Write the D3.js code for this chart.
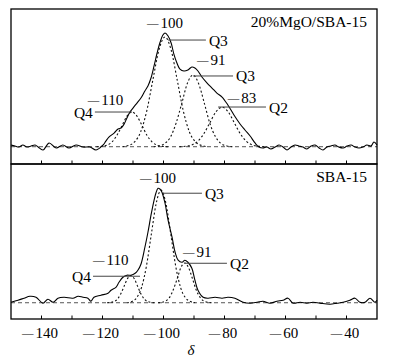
<!DOCTYPE html>
<html>
<head>
<meta charset="utf-8">
<script src="https://cdn.jsdelivr.net/npm/d3@7"></script>
<style>
  body { margin: 0; background: #fff; }
  svg text { font-family: "Liberation Serif", "DejaVu Serif", serif; fill: #000; }
</style>
</head>
<body>
<script>
'use strict';

// chemical shift axis
const xDomain = [-150, -30];
const xMajorTicks = [-140, -120, -100, -80, -60, -40];
const xMinorTicks = [-140, -130, -120, -110, -100, -90, -80, -70, -60, -50, -40];

// top panel: 20%MgO/SBA-15, measured spectrum [delta, intensity]
const topSpectrum = [
  [-150, 1.5], [-148.7, 0.6], [-147.4, -0.3], [-146.1, 1.5], [-144.8, -0.3], [-143.4, 0.6],
  [-142.1, 1.5], [-141.1, -0.3], [-139.5, -2.9], [-137.5, 3.3], [-135.2, -1.1], [-133.0, 1.5],
  [-131.0, -1.1], [-128.7, 1.5], [-126.4, -0.3], [-124.1, -0.3], [-122.1, -2.9], [-119.8, 1.5],
  [-118.9, 4.9], [-117.9, 8.5], [-116.2, 12.0], [-114.9, 15.6], [-113.9, 16.4], [-112.9, 20.0],
  [-112.0, 25.2], [-111.0, 30.5], [-110.0, 34.0], [-108.7, 38.4], [-107.4, 42.8], [-106.1, 49.0],
  [-105.1, 53.4], [-104.1, 60.4], [-103.1, 71.0], [-102.1, 82.4], [-101.1, 92.1], [-100.2, 98.2],
  [-99.5, 100], [-98.5, 97.4], [-97.5, 91.2], [-96.6, 81.5], [-95.6, 73.6], [-94.6, 68.3],
  [-93.3, 66.6], [-92.0, 67.5], [-90.7, 70.1], [-89.7, 69.2], [-88.7, 66.6], [-87.4, 61.3],
  [-85.7, 56.0], [-84.1, 51.6], [-82.5, 47.2], [-80.8, 43.7], [-78.9, 36.7], [-76.9, 27.9],
  [-74.9, 20.0], [-73.3, 14.7], [-71.6, 9.4], [-70.0, 3.3], [-68.7, -0.3], [-67.4, -1.1],
  [-66.1, -0.3], [-64.8, -2.0], [-63.4, -0.3], [-62.1, 1.5], [-60.8, -0.3], [-59.5, -2.9],
  [-58.2, -0.3], [-56.9, 1.5], [-55.6, 0.6], [-54.3, -0.3], [-53.0, -2.0], [-51.6, 0.6],
  [-50.3, 1.5], [-49.0, -1.1], [-47.7, -2.9], [-46.4, -0.3], [-45.1, 0.6], [-43.8, 1.5],
  [-42.5, -0.3], [-41.1, -1.1], [-39.8, 0.6], [-38.5, 1.5], [-37.2, -0.3], [-35.9, -1.1],
  [-34.6, -0.3], [-33.3, 1.5], [-32.0, 0.6], [-31.0, 4.1], [-30.0, 1.5]
];

// top panel fitted components
const topQ4 = [
  [-122, 0], [-120.2, 0.3], [-118.6, 1.3], [-116.9, 4.1], [-115.3, 9.9], [-113.6, 18.5], [-112.0, 26.9],
  [-110.3, 30.5], [-108.7, 26.9], [-107.0, 18.5], [-105.4, 9.9], [-103.7, 4.1], [-102.1, 1.3],
  [-100.4, 0.3], [-98.5, 0]
];
const topQ3a = [
  [-113.5, 0], [-111.5, 1.1], [-109.5, 4.2], [-107.5, 13.0], [-105.5, 31.4], [-103.5, 58.6], [-101.5, 85.1],
  [-99.5, 96.5], [-97.5, 85.1], [-95.5, 58.6], [-93.5, 31.4], [-91.5, 13.0], [-89.5, 4.2],
  [-87.5, 1.1], [-85.5, 0]
];
const topQ3b = [
  [-103.2, 0], [-101.4, 0.7], [-99.6, 2.8], [-97.7, 8.5], [-95.9, 20.5], [-94.0, 38.2], [-92.2, 55.6],
  [-90.3, 63], [-88.5, 55.6], [-86.6, 38.2], [-84.8, 20.5], [-82.9, 8.5], [-81.1, 2.8],
  [-79.2, 0.7], [-77.4, 0]
];
const topQ2 = [
  [-94.8, 0], [-92.8, 0.4], [-90.8, 1.5], [-88.8, 4.7], [-86.8, 11.3], [-84.8, 21.1], [-82.8, 30.7],
  [-80.8, 34.8], [-78.8, 30.7], [-76.8, 21.1], [-74.8, 11.3], [-72.8, 4.7], [-70.8, 1.5],
  [-68.8, 0.4], [-66.8, 0]
];

// bottom panel: SBA-15, measured spectrum
const botSpectrum = [
  [-150, 0.4], [-147.7, 2.2], [-145.7, 4.0], [-143.8, 5.7], [-141.8, 4.8], [-139.5, -0.4],
  [-137.9, 3.1], [-136.2, 0.4], [-134.6, 4.0], [-132.6, 4.8], [-129.7, 4.0], [-128.0, 5.7],
  [-126.4, 4.8], [-124.8, 4.0], [-123.8, 1.3], [-122.8, 4.8], [-120.5, 6.6], [-118.2, 8.4],
  [-117.2, 11.0], [-115.6, 13.6], [-114.6, 18.0], [-113.3, 22.4], [-112.0, 24.2], [-110.7, 24.2],
  [-109.3, 25.9], [-108.4, 28.6], [-107.4, 33.9], [-106.1, 48.8], [-105.1, 62.0], [-104.1, 77.0],
  [-103.1, 90.1], [-102.5, 96.3], [-101.8, 100.7], [-101.1, 99.8], [-100.5, 97.2], [-99.5, 87.5],
  [-98.5, 72.6], [-97.2, 57.6], [-96.2, 44.4], [-95.2, 37.4], [-93.9, 35.6], [-93.0, 37.4],
  [-92.0, 35.6], [-90.7, 30.3], [-89.7, 19.8], [-88.7, 11.0], [-87.0, 4.8], [-85.4, 4.0],
  [-83.1, 4.8], [-80.8, 4.0], [-78.9, 4.8], [-76.6, 4.0], [-73.9, 0.4], [-71.6, -0.4],
  [-69.3, 0.4], [-67.4, 1.3], [-65.1, -0.4], [-62.8, 1.3], [-60.8, 2.2], [-59.2, 4.0],
  [-57.5, -0.4], [-55.2, 0.4], [-53.0, -0.4], [-51.0, 0.4], [-48.7, -0.4], [-45.4, -1.3],
  [-43.1, -0.4], [-41.1, 0.4], [-38.9, 2.2], [-37.2, 4.0], [-35.6, 0.4], [-33.9, 0.4],
  [-32.3, 4.0], [-30.7, 0.4], [-30.0, 2.2]
];

// bottom panel fitted components
const botQ4 = [
  [-118.5, 0], [-117.3, 0.3], [-116.2, 1.1], [-115.1, 3.2], [-114.0, 7.8], [-112.9, 14.6], [-111.8, 21.2],
  [-110.7, 24], [-109.6, 21.2], [-108.5, 14.6], [-107.4, 7.8], [-106.3, 3.2], [-105.2, 1.1],
  [-104.1, 0.3], [-103, 0]
];
const botQ3 = [
  [-112, 0], [-110.4, 1.1], [-108.8, 4.4], [-107.2, 13.4], [-105.6, 32.2], [-104.0, 60.1], [-102.4, 87.3],
  [-100.8, 99], [-99.2, 87.3], [-97.6, 60.1], [-96.0, 32.2], [-94.4, 13.4], [-92.8, 4.4],
  [-91.2, 1.1], [-89.6, 0]
];
const botQ2 = [
  [-101.8, 0], [-100.5, 0.4], [-99.3, 1.5], [-98.0, 4.7], [-96.8, 11.4], [-95.5, 21.2], [-94.3, 30.9],
  [-93.0, 35], [-91.8, 30.9], [-90.5, 21.2], [-89.3, 11.4], [-88.0, 4.7], [-86.8, 1.5],
  [-85.5, 0.4], [-84.2, 0]
];

// peak labels: shift value + text position, leader line (d1 to d2 at height i), site label
const topLabels = [
  { shift: -100, sx: -105.4, sy: 104.4, d1: -98.5, d2: -86.1, i: 93.8, site: 'Q3', side: 'right' },
  { shift: -91, sx: -89.0, sy: 71.9, d1: -90.3, d2: -77.2, i: 62.2, site: 'Q3', side: 'right' },
  { shift: -83, sx: -78.9, sy: 38.4, d1: -82.1, d2: -66.4, i: 34.9, site: 'Q2', side: 'right' },
  { shift: -110, sx: -124.8, sy: 36.7, d1: -122.5, d2: -110.3, i: 30.5, site: 'Q4', side: 'left' }
];
const botLabels = [
  { shift: -100, sx: -107.7, sy: 105.1, d1: -100.2, d2: -87.4, i: 96.3, site: 'Q3', side: 'right' },
  { shift: -91, sx: -93.6, sy: 40.0, d1: -93.0, d2: -79.2, i: 34.7, site: 'Q2', side: 'right' },
  { shift: -110, sx: -123.1, sy: 33.0, d1: -123.1, d2: -107.7, i: 23.3, site: 'Q4', side: 'left' }
];

(function () {
  const W = 397, H = 361;
  const left = 11, right = 377;
  const svg = d3.select('body').append('svg')
    .attr('width', W)
    .attr('height', H);

  const x = d3.scaleLinear().domain(xDomain).range([left, right]);

  const panels = [
    { top: 9, bottom: 164, yDomain: [-15.2, 121.1], title: '20%MgO/SBA-15',
      spectrum: topSpectrum, parts: [topQ4, topQ3a, topQ3b, topQ2], labels: topLabels },
    { top: 164, bottom: 319, yDomain: [-14.3, 122.0], title: 'SBA-15',
      spectrum: botSpectrum, parts: [botQ4, botQ3, botQ2], labels: botLabels }
  ];

  panels.forEach((p) => drawPanel(p));

  // tick labels under the bottom panel
  const xAxis = d3.axisBottom(x)
    .tickValues(xMajorTicks)
    .tickSize(0)
    .tickPadding(0);
  const ax = svg.append('g')
    .attr('transform', 'translate(-2, 338)')
    .call(xAxis);
  ax.select('.domain').remove();
  ax.selectAll('text')
    .attr('dy', 0)
    .style('font-size', '15px')
    .each(function (d) { signedText(d3.select(this), d); });

  svg.append('text')
    .attr('x', x(-91))
    .attr('y', 355)
    .style('font-size', '15px')
    .style('font-style', 'italic')
    .attr('text-anchor', 'middle')
    .text('\u03b4');

  // negative numbers are typeset with a long dash and a small gap
  function signedText(sel, v) {
    sel.text(null);
    if (v < 0) {
      sel.append('tspan')
        .style('font-size', '11.5px')
        .attr('dy', -1.2)
        .text('\u2014');
      sel.append('tspan')
        .attr('dx', 2)
        .attr('dy', 1.2)
        .text(Math.abs(v));
    } else {
      sel.text(v);
    }
  }

  function drawPanel(p) {
    const y = d3.scaleLinear().domain(p.yDomain).range([p.bottom, p.top]);
    const g = svg.append('g');

    // baseline
    g.append('line')
      .attr('x1', x(xDomain[0])).attr('x2', x(xDomain[1]))
      .attr('y1', y(0)).attr('y2', y(0))
      .attr('stroke', '#555')
      .attr('stroke-width', 1)
      .attr('stroke-dasharray', '4,3');

    // fitted components, dotted
    const line = d3.line()
      .x((d) => x(d[0]))
      .y((d) => y(d[1]))
      .curve(d3.curveMonotoneX);

    g.selectAll('.part')
      .data(p.parts)
      .enter()
      .append('path')
      .attr('class', 'part')
      .attr('d', line)
      .attr('fill', 'none')
      .attr('stroke', '#111')
      .attr('stroke-width', 1.1)
      .attr('stroke-dasharray', '2,2.2');

    // measured spectrum
    const solid = d3.line()
      .x((d) => x(d[0]))
      .y((d) => y(d[1]))
      .curve(d3.curveCatmullRom.alpha(0.5));
    g.append('path')
      .datum(p.spectrum)
      .attr('d', solid)
      .attr('fill', 'none')
      .attr('stroke', '#000')
      .attr('stroke-width', 1.1);

    // frame
    g.append('rect')
      .attr('x', left).attr('y', p.top)
      .attr('width', right - left).attr('height', p.bottom - p.top)
      .attr('fill', 'none')
      .attr('stroke', '#000')
      .attr('stroke-width', 1.3);

    // inward ticks on bottom edge
    g.selectAll('.tick-mark')
      .data(xMinorTicks)
      .enter()
      .append('line')
      .attr('x1', (d) => x(d)).attr('x2', (d) => x(d))
      .attr('y1', p.bottom).attr('y2', p.bottom - 3.5)
      .attr('stroke', '#000')
      .attr('stroke-width', 1);

    // panel title
    g.append('text')
      .attr('x', right - 10)
      .attr('y', p.top + 18)
      .attr('text-anchor', 'end')
      .style('font-size', '15.5px')
      .text(p.title);

    // peak labels
    p.labels.forEach((l) => {
      g.append('line')
        .attr('x1', x(l.d1)).attr('x2', x(l.d2))
        .attr('y1', y(l.i)).attr('y2', y(l.i))
        .attr('stroke', '#444')
        .attr('stroke-width', 1);

      const t = g.append('text')
        .attr('x', x(l.sx))
        .attr('y', y(l.sy))
        .style('font-size', '15px');
      signedText(t, l.shift);

      g.append('text')
        .attr('x', l.side === 'right' ? x(l.d2) + 3 : x(l.d1) - 2)
        .attr('y', y(l.i) + 5.5)
        .attr('text-anchor', l.side === 'right' ? 'start' : 'end')
        .style('font-size', '15.5px')
        .text(l.site);
    });
  }
})();
</script>
</body>
</html>
